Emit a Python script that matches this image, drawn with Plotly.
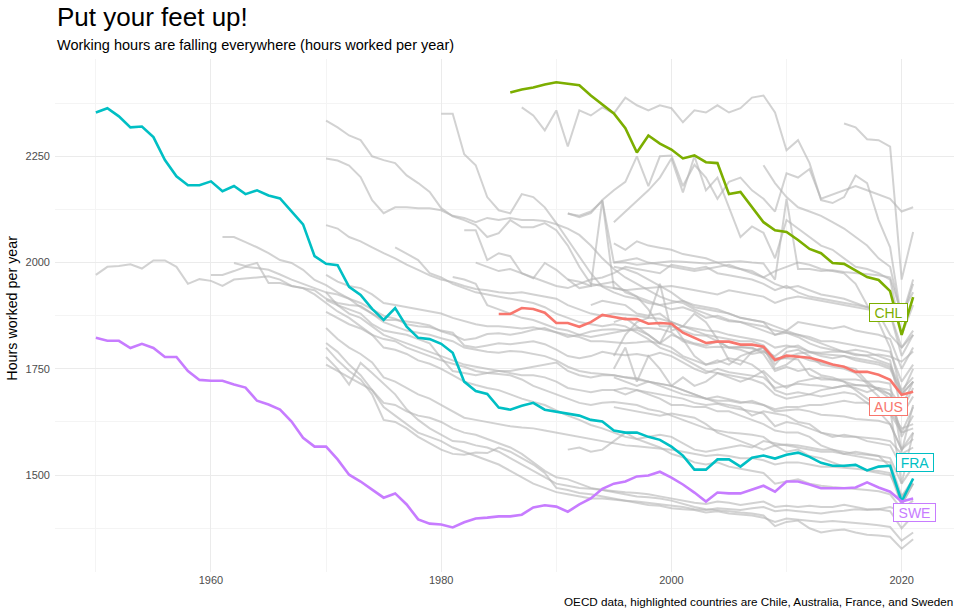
import plotly.graph_objects as go

# ---------------- data (hours worked per year) ----------------
x_ticks = [1960, 1980, 2000, 2020]
y_ticks = [1500, 1750, 2000, 2250]

# highlighted countries
chl_start = 1986
chl_hours = [2400, 2407, 2412, 2419,
             2424, 2421, 2417, 2393, 2372, 2351, 2316, 2259, 2299, 2280,
             2266, 2245, 2252, 2236, 2234, 2161, 2166, 2130, 2095, 2076,
             2072, 2053, 2032, 2022, 1999, 1997, 1982, 1966, 1959, 1933,
             1830, 1919]
aus_start = 1985
aus_hours = [1879, 1879, 1893, 1891, 1882,
             1858, 1858, 1849, 1860, 1877, 1872, 1867, 1867, 1856, 1858,
             1856, 1835, 1823, 1811, 1814, 1814, 1807, 1807, 1802, 1771,
             1781, 1778, 1776, 1769, 1760, 1755, 1743, 1743, 1736, 1724,
             1689, 1696]
fra_start = 1950
fra_hours = [2353, 2363, 2344, 2318, 2320, 2295, 2241, 2203, 2182, 2182,
             2191, 2168, 2180, 2161, 2170, 2158, 2151, 2121, 2090, 2015,
             1997, 1994, 1943, 1924, 1891, 1865, 1893, 1849, 1823, 1820,
             1809, 1788, 1720, 1698, 1691, 1659, 1654, 1663, 1670, 1654,
             1649, 1644, 1640, 1630, 1626, 1605, 1600, 1600, 1590, 1583,
             1567, 1546, 1513, 1513, 1537, 1537, 1520, 1541, 1546, 1539,
             1548, 1553, 1543, 1529, 1522, 1522, 1524, 1511, 1520, 1522,
             1438, 1492]
swe_start = 1950
swe_hours = [1823, 1816, 1816, 1799, 1809, 1799, 1778, 1778, 1745, 1724,
             1722, 1722, 1713, 1706, 1675, 1666, 1654, 1626, 1588, 1567,
             1567, 1537, 1501, 1485, 1466, 1447, 1457, 1431, 1396, 1386,
             1384, 1377, 1389, 1398, 1400, 1403, 1403, 1407, 1424, 1429,
             1426, 1414, 1431, 1445, 1468, 1480, 1485, 1497, 1499, 1508,
             1494, 1478, 1459, 1438, 1459, 1457, 1457, 1466, 1475, 1461,
             1485, 1485, 1478, 1469, 1469, 1469, 1471, 1483, 1471, 1461,
             1438, 1445]

# other OECD countries (grey background lines)
usa_hours = [1971, 1990, 1992, 1996, 1986, 2005, 2005, 1990, 1950, 1961,
             1957, 1945, 1960, 1962, 1965, 1968, 1960, 1945, 1940, 1935,
             1915, 1905, 1900, 1898, 1880, 1865, 1865, 1862, 1858, 1852,
             1838, 1830, 1818, 1822, 1832, 1834, 1830, 1835, 1842, 1846,
             1836, 1825, 1830, 1838, 1842, 1843, 1840, 1846, 1846, 1844,
             1836, 1815, 1808, 1800, 1802, 1800, 1802, 1798, 1792, 1769,
             1777, 1786, 1789, 1788, 1791, 1790, 1782, 1782, 1784, 1779,
             1767, 1791]
can_hours = [1971, 1971, 1980, 1990, 1987, 1983, 1972, 1960, 1950, 1940,
             1930, 1925, 1915, 1905, 1890, 1875, 1868, 1855, 1850, 1848,
             1840, 1835, 1805, 1800, 1805, 1810, 1808, 1812, 1815, 1808,
             1795, 1780, 1775, 1780, 1790, 1785, 1782, 1785, 1780, 1788,
             1780, 1765, 1750, 1740, 1750, 1742, 1738, 1735, 1730, 1705,
             1710, 1715, 1712, 1710, 1705, 1710, 1705, 1695, 1705, 1690,
             1640, 1685]
a61_hours = [2060, 2060, 2048, 2036, 2022, 2006, 1999, 1983, 1959,
             1947, 1930, 1915, 1895, 1880, 1860, 1850, 1840, 1835, 1830,
             1822, 1815, 1800, 1795, 1790, 1788, 1792, 1790, 1785, 1780,
             1770, 1755, 1745, 1740, 1738, 1735, 1730, 1728, 1720, 1715,
             1710, 1700, 1690, 1680, 1685, 1678, 1672, 1670, 1665, 1650,
             1652, 1655, 1650, 1642, 1640, 1638, 1632, 1630, 1628, 1620,
             1560, 1600]
a62_hours = [1999, 1992, 1999, 1952, 1952, 1945, 1940, 1925,
             1905, 1885, 1870, 1850, 1830, 1800, 1795, 1785, 1770, 1762,
             1750, 1735, 1720, 1712, 1705, 1700, 1690, 1680, 1672, 1665,
             1652, 1640, 1630, 1618, 1610, 1600, 1590, 1585, 1575, 1565,
             1550, 1542, 1530, 1525, 1530, 1520, 1515, 1510, 1505, 1480,
             1485, 1490, 1480, 1475, 1472, 1470, 1468, 1465, 1462, 1455,
             1420, 1440]
jpn_hours = [2334, 2318, 2299, 2288, 2250, 2241, 2234, 2205, 2187, 2166,
             2128, 2109, 2100, 2088, 2060, 2069, 2100, 2083, 2083, 2093,
             2076, 2040, 1990, 1950, 1945, 1940, 1935, 1920, 1890, 1850,
             1850, 1840, 1830, 1828, 1815, 1800, 1800, 1800, 1785, 1745,
             1755, 1745, 1750, 1735, 1730, 1720, 1712, 1710, 1685, 1645,
             1600, 1610]
esp_hours = [2245, 2240, 2228, 2201, 2147, 2116, 2130, 2130, 2128, 2128,
             2123, 2110, 2105, 2095, 2105, 2100, 2105, 2100, 2100, 2098,
             2090, 2080, 2065, 2040, 2010, 1985, 1965, 1950, 1935, 1920,
             1910, 1905, 1890, 1880, 1870, 1862, 1860, 1855, 1850, 1840,
             1835, 1830, 1820, 1810, 1800, 1790, 1785, 1780, 1770, 1760,
             1700, 1730]
grc_hours = [2350, 2350, 2255, 2229, 2154, 2123, 2116, 2161, 2154, 2130,
             2093, 2053, 2013, 1975, 1943, 1930, 1920, 1915, 1905, 1900,
             1905, 1910, 1900, 1895, 1890, 1880, 1870, 1865, 1860, 1850,
             1840, 1830, 1825, 1815, 1815, 1810, 1805, 1800, 1795, 1790,
             1720, 1760]
l70_hours = [2088, 2080, 2060, 2050, 2036, 2022, 2010, 1995, 1983, 1970,
             1960, 1954, 1945, 1938, 1935, 1930, 1928, 1930, 1925, 1920,
             1915, 1900, 1890, 1880, 1875, 1880, 1878, 1875, 1870, 1868,
             1860, 1850, 1845, 1840, 1838, 1830, 1825, 1820, 1815, 1800,
             1805, 1800, 1790, 1785, 1782, 1780, 1775, 1770, 1765, 1755,
             1690, 1720]
ita_hours = [1971, 1955, 1945, 1940, 1925, 1905, 1900, 1895, 1890, 1885,
             1880, 1870, 1862, 1855, 1850, 1850, 1848, 1845, 1848, 1842,
             1835, 1830, 1825, 1815, 1815, 1812, 1810, 1812, 1815, 1810,
             1860, 1850, 1840, 1830, 1825, 1820, 1815, 1815, 1805, 1775,
             1775, 1772, 1735, 1725, 1725, 1725, 1725, 1720, 1720, 1715,
             1555, 1665]
gbr_hours = [1930, 1900, 1890, 1880, 1855, 1840, 1835, 1830, 1820, 1810,
             1775, 1745, 1740, 1735, 1740, 1745, 1745, 1750, 1755, 1760,
             1765, 1745, 1735, 1730, 1735, 1735, 1730, 1725, 1720, 1715,
             1710, 1700, 1690, 1680, 1675, 1675, 1670, 1675, 1665, 1655,
             1660, 1660, 1665, 1665, 1670, 1675, 1670, 1670, 1665, 1655,
             1480, 1600]
fin_hours = [1912, 1900, 1880, 1870, 1850, 1830, 1820, 1810, 1800, 1790,
             1780, 1770, 1760, 1755, 1750, 1745, 1740, 1735, 1735, 1730,
             1720, 1705, 1700, 1695, 1700, 1700, 1705, 1700, 1695, 1690,
             1685, 1680, 1670, 1665, 1668, 1660, 1655, 1650, 1645, 1615,
             1625, 1620, 1610, 1600, 1595, 1590, 1590, 1588, 1585, 1580,
             1550, 1565]
nzl_hours = [1884, 1870, 1855, 1845, 1830, 1820, 1815, 1800, 1790, 1780,
             1770, 1762, 1755, 1745, 1740, 1738, 1735, 1725, 1710, 1700,
             1690, 1680, 1670, 1665, 1670, 1672, 1668, 1665, 1655, 1650,
             1640, 1630, 1620, 1610, 1605, 1600, 1598, 1595, 1590, 1570,
             1572, 1570, 1565, 1560, 1560, 1555, 1550, 1548, 1545, 1540,
             1480, 1520]
bel_hours = [1846, 1820, 1800, 1785, 1765, 1730, 1720, 1705, 1690, 1680,
             1665, 1650, 1635, 1630, 1625, 1620, 1615, 1612, 1610, 1605,
             1600, 1595, 1590, 1585, 1580, 1575, 1570, 1568, 1565, 1562,
             1560, 1555, 1550, 1545, 1548, 1545, 1540, 1540, 1535, 1525,
             1530, 1530, 1525, 1520, 1520, 1518, 1515, 1512, 1510, 1505,
             1430, 1480]
nld_hours = [1811, 1790, 1760, 1735, 1700, 1660, 1640, 1620, 1600, 1590,
             1580, 1565, 1555, 1545, 1535, 1525, 1510, 1495, 1480, 1470,
             1460, 1455, 1450, 1445, 1445, 1442, 1440, 1438, 1435, 1432,
             1428, 1425, 1420, 1418, 1422, 1420, 1418, 1422, 1425, 1415,
             1418, 1415, 1412, 1410, 1414, 1416, 1420, 1418, 1420, 1415,
             1375, 1405]
nor_hours = [1778, 1750, 1713, 1764, 1740, 1715, 1690, 1655, 1630, 1610,
             1595, 1580, 1578, 1570, 1565, 1555, 1540, 1525, 1510, 1495,
             1480, 1475, 1470, 1468, 1465, 1462, 1460, 1458, 1455, 1450,
             1445, 1440, 1435, 1432, 1438, 1435, 1430, 1434, 1438, 1425,
             1428, 1425, 1428, 1425, 1425, 1430, 1425, 1420, 1420, 1425,
             1415, 1420]
dnk_hours = [1800, 1770, 1745, 1725, 1690, 1630, 1625, 1610, 1590, 1575,
             1560, 1550, 1548, 1553, 1552, 1565, 1555, 1540, 1525, 1505,
             1470, 1465, 1458, 1455, 1450, 1445, 1440, 1435, 1430, 1428,
             1422, 1420, 1418, 1412, 1415, 1410, 1408, 1405, 1400, 1390,
             1398, 1395, 1392, 1390, 1392, 1390, 1388, 1385, 1382, 1378,
             1346, 1365]
deu_hours = [1760, 1745, 1730, 1715, 1700, 1670, 1665, 1650, 1640, 1635,
             1625, 1610, 1600, 1595, 1585, 1575, 1565, 1550, 1530, 1510,
             1495, 1490, 1480, 1470, 1465, 1460, 1455, 1450, 1448, 1445,
             1440, 1432, 1425, 1420, 1418, 1415, 1412, 1410, 1405, 1380,
             1390, 1393, 1375, 1365, 1370, 1372, 1365, 1360, 1358, 1355,
             1327, 1349]
irl_hours = [2036, 2020, 2006, 1975,
             1965, 1950, 1940, 1930, 1925, 1920, 1915, 1910, 1905, 1895,
             1880, 1870, 1860, 1855, 1850, 1855, 1850, 1835, 1820, 1800,
             1790, 1775, 1760, 1745, 1740, 1735, 1730, 1725, 1715, 1690,
             1680, 1685, 1690, 1700, 1705, 1710, 1712, 1710, 1705, 1700,
             1660, 1720]
isl_hours = [1966, 1960, 1950, 1900, 1890, 1880, 1870, 1865, 1855,
             1845, 1840, 1830, 1825, 1830, 1835, 1840, 1842, 1830, 1810,
             1800, 1780, 1770, 1760, 1765, 1775, 1770, 1760, 1740, 1700,
             1690, 1695, 1690, 1685, 1690, 1695, 1690, 1670, 1650, 1620,
             1560, 1585]
prt_hours = [2076, 2076, 2006, 2022, 2015, 1975, 1963, 1999,
             1983, 1960, 1940, 1945, 1950, 1955, 1930, 1920, 1910, 1900,
             1890, 1895, 1885, 1870, 1875, 1865, 1860, 1850, 1840, 1830,
             1835, 1825, 1810, 1800, 1795, 1790, 1795, 1790, 1780, 1770,
             1650, 1705]
isr_hours = [2000, 1990, 1980, 1985, 1975, 1965, 1955,
             1945, 1940, 1950, 1960, 1965, 1975, 1990, 1985, 1980, 1975,
             1995, 1990, 1985, 1990, 1975, 1970, 1965, 1960, 1950, 1935,
             1945, 1930, 1920, 1915, 1910, 1905, 1900, 1895, 1890, 1880,
             1800, 1840]
rus_hours = [2115, 2110, 2120, 2145, 2000, 2000, 1995, 1998, 2000,
             2003, 2002, 2000, 1998, 2000, 2002, 2003, 2000, 1998, 1960,
             2150, 1985, 1985, 1980, 1982, 1978, 1975, 1972, 1970, 1965,
             1880, 1930]
tur_hours = [1960, 1955, 1945, 2147, 1940, 1935, 1938, 1940, 1942,
             1945, 1940, 1935, 1930, 1925, 1935, 1930, 1925, 1920, 1905,
             1915, 1920, 1915, 1910, 1905, 1900, 1895, 1890, 1885, 1880,
             1780, 1830]
mex_hours = [2116, 2107, 2116, 2147, 2170, 2190, 2250, 2180, 2250,
             2252, 2180, 2230, 2200, 2150, 2190, 2200, 2170, 2150, 2120,
             2210, 2200, 2220, 2150, 2160, 2170, 2180, 2170, 2160, 2150,
             2120, 2130]
cri_hours = [2095, 2120, 2145, 2170, 2200,
             2245, 2165, 2250, 2170, 2200, 2130, 2060, 2085, 2070, 2010,
             2100, 2080, 2060, 2040, 2030, 2010, 1990, 1985, 1975, 1960,
             1830, 1900]
kor_hours = [2365, 2346, 2311,
             2358, 2273, 2358, 2346, 2365, 2351, 2388, 2370, 2358, 2370,
             2363, 2330, 2358, 2353, 2370, 2353, 2363, 2388, 2393, 2353,
             2264, 2288, 2234, 2147, 2140, 2154, 2205, 2187, 2100, 2036,
             1865, 1950]
col_hours = [2327, 2318, 2290, 2288, 2273,
             1960, 2072]
arg_hours = [2229, 2187,
             2154, 2130, 2120, 2110, 2095, 2080, 2060, 2040, 2010, 1990,
             1870, 1960]
cze_hours = [1900, 1910, 1905, 1900, 1880, 1875, 1880,
             1860, 1820, 1810, 1805, 1815, 1800, 1795, 1785, 1790, 1780,
             1800, 1805, 1790, 1780, 1775, 1780, 1770, 1765, 1760, 1750,
             1690, 1720]
svk_hours = [1860, 1870, 1850, 1830, 1810,
             1830, 1820, 1780, 1760, 1770, 1760, 1780, 1790, 1800, 1760,
             1790, 1795, 1780, 1760, 1755, 1750, 1740, 1715, 1700, 1690,
             1590, 1640]
pol_hours = [2000, 2005, 2010, 2000, 1995,
             1990, 1985, 1980, 1985, 1990, 1995, 1985, 1975, 1965, 1950,
             1940, 1945, 1935, 1925, 1920, 1915, 1905, 1895, 1880, 1830,
             1800, 1830]
hun_hours = [2045, 2030, 2050, 2040, 2035,
             2030, 2020, 2015, 2010, 2000, 1990, 1985, 1980, 1965, 1980,
             1990, 2000, 1995, 1985, 1980, 1975, 1950, 1900, 1860, 1800,
             1690, 1750]
est_hours = [1990, 1985, 1975, 1960, 1945,
             1930, 1910, 1895, 1890, 1885, 1880, 1870, 1865, 1860, 1830,
             1840, 1860, 1855, 1850, 1845, 1850, 1840, 1835, 1830, 1820,
             1750, 1800]
lva_hours = [1780, 1830, 1860, 1870, 1950,
             1840, 1850, 1880, 1860, 1820, 1770, 1760, 1790, 1800, 1750,
             1760, 1780, 1770, 1765, 1760, 1755, 1750, 1720, 1700, 1680,
             1600, 1660]
ltu_hours = [1750, 1800, 1720, 1780, 1750,
             1710, 1730, 1710, 1720, 1740, 1730, 1720, 1730, 1745, 1720,
             1705, 1720, 1725, 1730, 1725, 1720, 1700, 1680, 1660, 1650,
             1610, 1620]
svn_hours = [1730, 1720, 1710, 1720, 1710,
             1700, 1690, 1685, 1680, 1670, 1665, 1660, 1640, 1650, 1645,
             1640, 1625, 1620, 1600, 1590, 1595, 1590, 1580, 1575, 1570,
             1520, 1550]
che_hours = [1560, 1565, 1555, 1560, 1580, 1600, 1585, 1590, 1595,
             1590, 1575, 1560, 1555, 1560, 1565, 1570, 1565, 1580, 1575,
             1570, 1565, 1560, 1555, 1555, 1550, 1545, 1540, 1535, 1530,
             1450, 1490]
lux_hours = [1660, 1655, 1650, 1645, 1640,
             1645, 1640, 1635, 1620, 1600, 1590, 1580, 1570, 1560, 1570,
             1555, 1560, 1545, 1540, 1530, 1520, 1525, 1510, 1505, 1500,
             1450, 1480]
aut_hours = [1700, 1690, 1700, 1690, 1680,
             1665, 1665, 1660, 1660, 1650, 1650, 1640, 1630, 1620, 1605,
             1600, 1600, 1590, 1570, 1560, 1550, 1555, 1550, 1545, 1520,
             1430, 1480]

grey_series = [
    (1950, usa_hours), (1960, can_hours), (1961, a61_hours), (1962, a62_hours),
    (1970, jpn_hours), (1970, esp_hours), (1980, grc_hours), (1970, l70_hours),
    (1970, ita_hours), (1970, gbr_hours), (1970, fin_hours), (1970, nzl_hours),
    (1970, bel_hours), (1970, nld_hours), (1970, nor_hours), (1970, dnk_hours),
    (1970, deu_hours), (1976, irl_hours), (1981, isl_hours), (1982, prt_hours),
    (1983, isr_hours), (1991, rus_hours), (1991, tur_hours), (1991, mex_hours),
    (1995, cri_hours), (1987, kor_hours), (2015, col_hours), (2008, arg_hours),
    (1993, cze_hours), (1995, svk_hours), (1995, pol_hours), (1995, hun_hours),
    (1995, est_hours), (1995, lva_hours), (1995, ltu_hours), (1995, svn_hours),
    (1991, che_hours), (1995, lux_hours), (1995, aut_hours),
]

highlights = [
    ("CHL", chl_start, chl_hours, "#7CAE00", 2018.83, 1882, 37),
    ("AUS", aus_start, aus_hours, "#F8766D", 2018.83, 1661, 37),
    ("FRA", fra_start, fra_hours, "#00BFC4", 2021.13, 1529, 36),
    ("SWE", swe_start, swe_hours, "#C77CFF", 2021.08, 1411, 41),
]

FONT = "Liberation Sans, Arial, Helvetica, sans-serif"

fig = go.Figure()

for start, vals in grey_series:
    fig.add_trace(go.Scatter(
        x=list(range(start, start + len(vals))), y=vals, mode="lines",
        line=dict(color="rgba(180,180,180,0.6)", width=2),
        hoverinfo="skip", showlegend=False))

for name, start, vals, col, lx, ly, lw in highlights:
    fig.add_trace(go.Scatter(
        x=list(range(start, start + len(vals))), y=vals, mode="lines",
        line=dict(color=col, width=2.6), name=name, showlegend=False))

# axis ranges with ggplot-style 5% expansion
all_vals = [v for _, s in grey_series for v in s] + [v for h in highlights for v in h[2]]
ymin, ymax = min(all_vals), max(all_vals)
yr = ymax - ymin
xmin, xmax = 1950, 2021
xr = xmax - xmin

annotations = []
for name, start, vals, col, lx, ly, lw in highlights:
    annotations.append(dict(
        x=lx, y=ly, xref="x", yref="y", text=name, showarrow=False,
        font=dict(family=FONT, size=14, color=col),
        bgcolor="white", bordercolor=col, borderwidth=1, borderpad=0,
        width=lw, height=17, xanchor="center", yanchor="middle"))

annotations += [
    dict(text="Put your feet up!", x=0, y=1.081, xref="paper", yref="paper",
         xanchor="left", yanchor="middle", showarrow=False,
         font=dict(family=FONT, size=26, color="black")),
    dict(text="Working hours are falling everywhere (hours worked per year)",
         x=0, y=1.028, xref="paper", yref="paper", xanchor="left",
         yanchor="middle", showarrow=False,
         font=dict(family=FONT, size=14.5, color="black")),
    dict(text="OECD data, highlighted countries are Chile, Australia, France, and Sweden",
         x=1.001, y=-0.057, xref="paper", yref="paper", xanchor="right",
         yanchor="middle", showarrow=False,
         font=dict(family=FONT, size=11.7, color="black")),
    dict(text="Hours worked per year", x=-0.048, y=0.515, xref="paper",
         yref="paper", textangle=-90, xanchor="center", yanchor="middle",
         showarrow=False, font=dict(family=FONT, size=14.3, color="black")),
]

fig.update_layout(
    width=960, height=611,
    margin=dict(l=55, r=6, t=59, b=39),
    paper_bgcolor="white", plot_bgcolor="white",
    font=dict(family=FONT),
    annotations=annotations,
    xaxis=dict(
        range=[xmin - 0.05 * xr, xmax + 0.05 * xr],
        tickmode="array", tickvals=x_ticks, ticktext=[str(t) for t in x_ticks],
        showgrid=True, gridcolor="#ebebeb", gridwidth=1.1,
        zeroline=False, showline=False, ticks="",
        tickfont=dict(family=FONT, size=11, color="#4d4d4d"),
        minor=dict(tickmode="array", tickvals=[1950, 1970, 1990, 2010],
                   showgrid=True, gridcolor="#f4f4f4", gridwidth=0.8),
        automargin=False),
    yaxis=dict(
        range=[ymin - 0.05 * yr, ymax + 0.05 * yr],
        tickmode="array", tickvals=y_ticks, ticktext=[str(t) for t in y_ticks],
        showgrid=True, gridcolor="#ebebeb", gridwidth=1.1,
        zeroline=False, showline=False, ticks="",
        ticklabelstandoff=4,
        tickfont=dict(family=FONT, size=11, color="#4d4d4d"),
        minor=dict(tickmode="array", tickvals=[1375, 1625, 1875, 2125, 2375],
                   showgrid=True, gridcolor="#f4f4f4", gridwidth=0.8),
        automargin=False),
)

fig.write_html("out.html")
